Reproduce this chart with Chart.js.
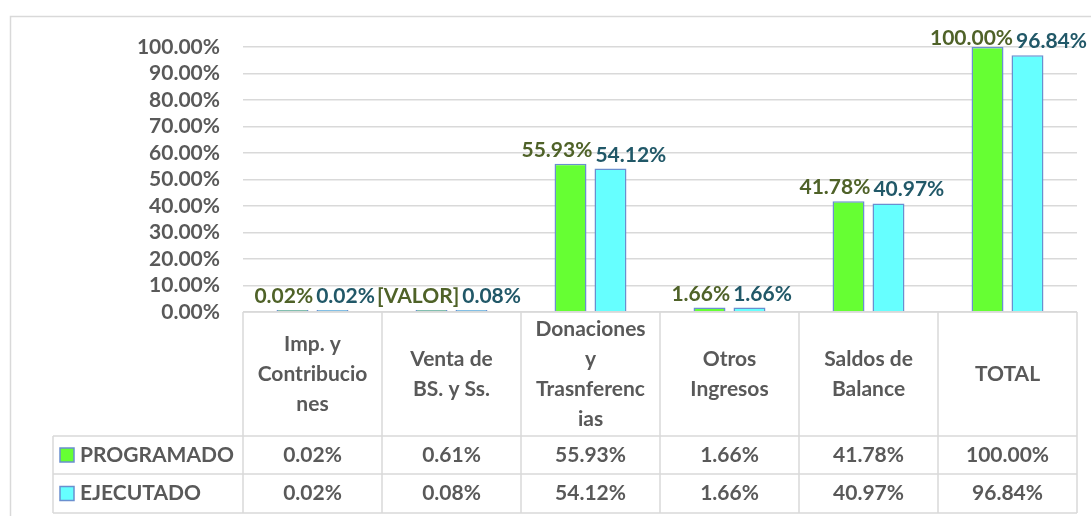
<!DOCTYPE html>
<html>
<head>
<meta charset="utf-8">
<script src="https://cdn.jsdelivr.net/npm/chart.js@4.4.1/dist/chart.umd.min.js"></script>
<style>
  body { margin: 0; background: #fff; }
  canvas { display: block; }
</style>
</head>
<body>
<canvas id="grafico" width="1091" height="516"></canvas>
<script>
// Datos del gráfico
const categorias = [
    ['Imp. y', 'Contribucio', 'nes'],
    ['Venta de', 'BS. y Ss.'],
    ['Donaciones', 'y', 'Trasnferenc', 'ias'],
    ['Otros', 'Ingresos'],
    ['Saldos de', 'Balance'],
    ['TOTAL']
];
const programado = [0.02, 0.61, 55.93, 1.66, 41.78, 100.00];
const ejecutado = [0.02, 0.08, 54.12, 1.66, 40.97, 96.84];
const etiquetasProgramado = ['0.02%', '[VALOR]', '55.93%', '1.66%', '41.78%', '100.00%'];
const etiquetasEjecutado = ['0.02%', '0.08%', '54.12%', '1.66%', '40.97%', '96.84%'];
const nombresSeries = ['PROGRAMADO', 'EJECUTADO'];
const yMin = 0, yMax = 100, yPaso = 10;

const GRIS = '#595959';
const LINEA = '#D9D9D9';
const VERDE = '#66FF33';
const CIAN = '#66FFFF';
const BORDE = '#6A8FCF';
const FUENTE = 'Lato, "DejaVu Sans", sans-serif';
const TAM = 21;

// Etiquetas de datos encima de las barras
const etiquetasPlugin = {
    id: 'etiquetas',
    afterDatasetsDraw(chart) {
        const ctx = chart.ctx;
        const m0 = chart.getDatasetMeta(0).data;
        const m1 = chart.getDatasetMeta(1).data;
        ctx.save();
        ctx.font = 'bold ' + TAM + 'px ' + FUENTE;
        ctx.textAlign = 'center';
        ctx.textBaseline = 'alphabetic';
        for (let i = 0; i < m0.length; i++) {
            const t0 = etiquetasProgramado[i], t1 = etiquetasEjecutado[i];
            const w0 = ctx.measureText(t0).width, w1 = ctx.measureText(t1).width;
            const b0 = m0[i], b1 = m1[i];
            // separar etiquetas si se superponen
            const falta = Math.max(0, (w0 + w1) / 2 + 3 - (b1.x - b0.x));
            let y0 = b0.y - 7, y1 = b1.y - 7;
            y0 = Math.max(y0, chart.chartArea.top - 2);
            y1 = Math.max(y1, chart.chartArea.top - 2);
            ctx.fillStyle = '#4F6228';
            ctx.fillText(t0, b0.x - falta * 0.4, y0);
            ctx.fillStyle = '#215868';
            ctx.fillText(t1, b1.x + falta * 0.6, y1);
        }
        ctx.restore();
    }
};

// Tabla de datos debajo del gráfico + marco
const tablaPlugin = {
    id: 'tabla',
    beforeDraw(chart) {
        const ctx = chart.ctx;
        ctx.save();
        ctx.fillStyle = '#fff';
        ctx.fillRect(0, 0, chart.width, chart.height);
        ctx.strokeStyle = LINEA;
        ctx.lineWidth = 1.5;
        ctx.strokeRect(10.5, 16.5, chart.width + 20, chart.height + 20);
        ctx.restore();
    },
    afterDraw(chart) {
        const ctx = chart.ctx;
        const area = chart.chartArea;
        const xs = chart.scales.x;
        const n = categorias.length;
        const colW = (area.right - area.left) / n;
        const top = area.bottom;
        const yCab = top + 124;
        const yF1 = yCab + 38;
        const yF2 = yF1 + 39;
        const izqLeyenda = area.left - 190;

        ctx.save();
        ctx.strokeStyle = LINEA;
        ctx.lineWidth = 1.5;
        ctx.beginPath();
        ctx.moveTo(area.left, top); ctx.lineTo(area.right, top);
        [yCab, yF1, yF2].forEach(y => { ctx.moveTo(izqLeyenda, y); ctx.lineTo(area.right, y); });
        for (let i = 0; i <= n; i++) {
            const x = area.left + i * colW;
            ctx.moveTo(x, top); ctx.lineTo(x, yF2);
        }
        ctx.moveTo(izqLeyenda, yCab); ctx.lineTo(izqLeyenda, yF2);
        ctx.stroke();

        ctx.fillStyle = GRIS;
        ctx.textAlign = 'center';
        ctx.textBaseline = 'middle';
        // cabecera
        ctx.font = 'bold ' + TAM + 'px ' + FUENTE;
        categorias.forEach((lineas, i) => {
            const cx = xs.getPixelForValue(i);
            const cy = (top + yCab) / 2;
            const lh = 30;
            lineas.forEach((l, k) => {
                ctx.fillText(l, cx, cy + (k - (lineas.length - 1) / 2) * lh);
            });
        });
        // filas
        const filas = [[programado, VERDE, (yCab + yF1) / 2], [ejecutado, CIAN, (yF1 + yF2) / 2]];
        filas.forEach(([vals, color, cy], s) => {
            ctx.fillStyle = GRIS;
            ctx.textAlign = 'center';
            vals.forEach((v, i) => ctx.fillText(v.toFixed(2) + '%', xs.getPixelForValue(i), cy));
            ctx.fillStyle = color;
            ctx.strokeStyle = BORDE;
            ctx.lineWidth = 1.5;
            ctx.fillRect(izqLeyenda + 7, cy - 7, 14, 14);
            ctx.strokeRect(izqLeyenda + 7, cy - 7, 14, 14);
            ctx.fillStyle = GRIS;
            ctx.textAlign = 'left';
            ctx.fillText(nombresSeries[s], izqLeyenda + 27, cy);
        });
        ctx.restore();
    }
};

const ctx = document.getElementById('grafico').getContext('2d');
new Chart(ctx, {
    type: 'bar',
    data: {
        labels: categorias,
        datasets: [{
            label: nombresSeries[0],
            data: programado,
            backgroundColor: VERDE,
            borderColor: BORDE,
            borderWidth: 1.5,
            minBarLength: 2,
            barPercentage: 0.8,
            categoryPercentage: 0.575
        }, {
            label: nombresSeries[1],
            data: ejecutado,
            backgroundColor: CIAN,
            borderColor: BORDE,
            borderWidth: 1.5,
            minBarLength: 2,
            barPercentage: 0.8,
            categoryPercentage: 0.575
        }]
    },
    options: {
        responsive: false,
        animation: false,
        layout: { padding: { left: 0, top: 47, right: 14, bottom: 204 } },
        plugins: {
            legend: { display: false },
            tooltip: { enabled: false }
        },
        scales: {
            x: {
                display: false
            },
            y: {
                min: yMin,
                max: yMax,
                afterFit(scale) { scale.width = 243; },
                border: { display: false },
                grid: { color: LINEA, lineWidth: 1.5, drawTicks: false },
                ticks: {
                    stepSize: yPaso,
                    autoSkip: false,
                    padding: 23,
                    color: GRIS,
                    font: { family: FUENTE, size: TAM, weight: 'bold' },
                    callback: v => v.toFixed(2) + '%'
                }
            }
        }
    },
    plugins: [etiquetasPlugin, tablaPlugin]
});
</script>
</body>
</html>
